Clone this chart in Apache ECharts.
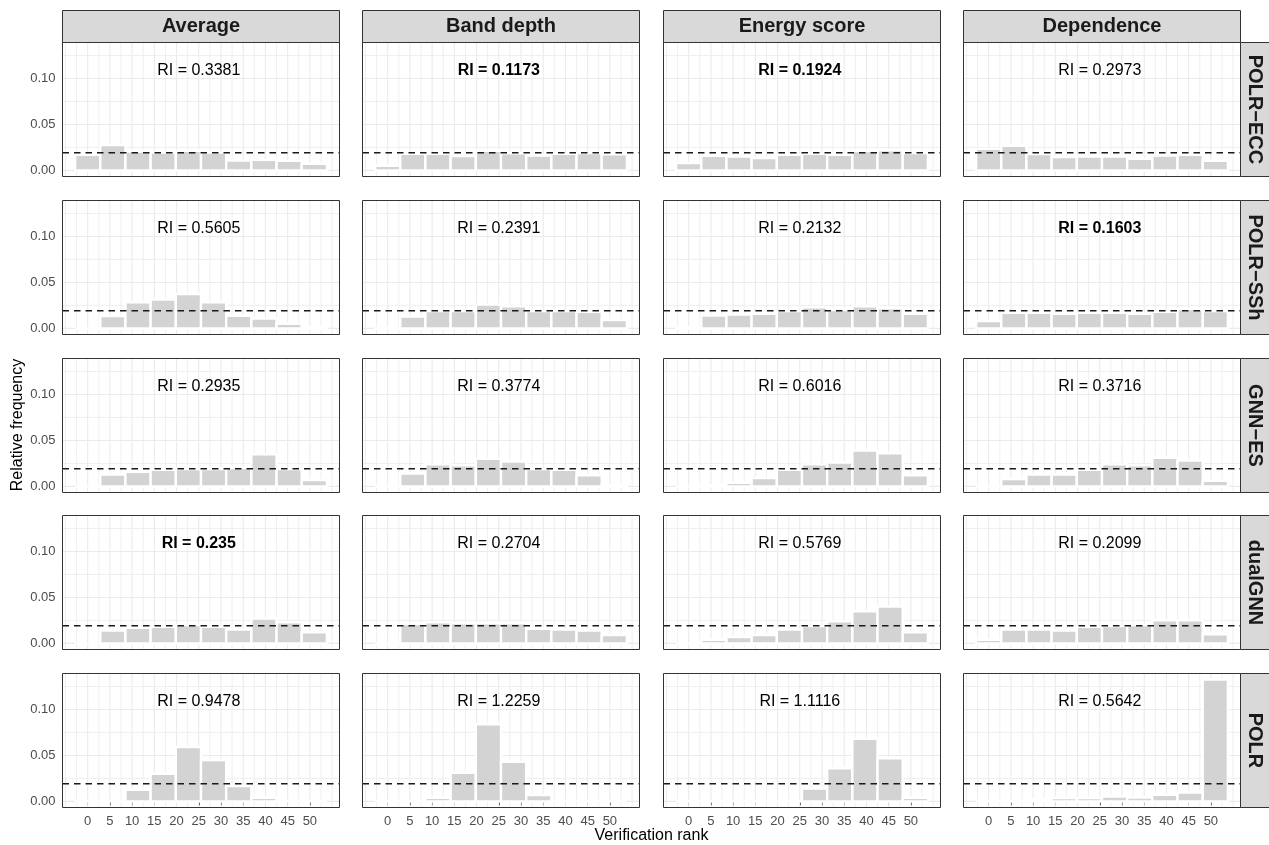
<!DOCTYPE html>
<html>
<head>
<meta charset="utf-8">
<title>Verification rank histograms</title>
<script src="https://cdn.jsdelivr.net/npm/echarts@6/dist/echarts.min.js"></script>
<style>
  html, body { margin: 0; padding: 0; background: #ffffff; }
  #chart { width: 1269px; height: 845px; }
</style>
</head>
<body>
<div id="chart"></div>
<script>
// ---- data -------------------------------------------------------------
const METHODS = ['Average', 'Band depth', 'Energy score', 'Dependence'];
const MODELS = ['POLR\u2212ECC', 'POLR\u2212SSh', 'GNN\u2212ES', 'dualGNN', 'POLR'];

// centres of the ten rank bins (ranks 0..51)
const RANK_BINS = [0, 5.667, 11.333, 17, 22.667, 28.333, 34, 39.667, 45.333, 51];
const BIN_WIDTH = 51 / 9;

const X_TICKS = [0, 5, 10, 15, 20, 25, 30, 35, 40, 45, 50];
const Y_TICKS = [0, 0.05, 0.10];
const UNIFORM_LEVEL = 1 / 52;   // flat-histogram reference

// relative frequency per rank bin
const polrEccAverage    = [0.0169, 0.0277, 0.0205, 0.0194, 0.0212, 0.0194, 0.0107, 0.0115, 0.0104, 0.0072];
const polrEccBandDepth  = [0.0050, 0.0180, 0.0180, 0.0155, 0.0212, 0.0187, 0.0162, 0.0180, 0.0190, 0.0176];
const polrEccEnergy     = [0.0080, 0.0160, 0.0150, 0.0135, 0.0170, 0.0180, 0.0170, 0.0210, 0.0220, 0.0190];
const polrEccDependence = [0.0234, 0.0267, 0.0177, 0.0144, 0.0151, 0.0151, 0.0126, 0.0162, 0.0169, 0.0104];

const polrSshAverage    = [0.0000, 0.0135, 0.0285, 0.0313, 0.0375, 0.0285, 0.0137, 0.0107, 0.0050, 0.0015];
const polrSshBandDepth  = [0.0005, 0.0130, 0.0190, 0.0190, 0.0260, 0.0240, 0.0190, 0.0190, 0.0180, 0.0090];
const polrSshEnergy     = [0.0010, 0.0140, 0.0150, 0.0160, 0.0190, 0.0230, 0.0200, 0.0240, 0.0220, 0.0160];
const polrSshDependence = [0.0080, 0.0170, 0.0170, 0.0160, 0.0170, 0.0170, 0.0160, 0.0180, 0.0210, 0.0190];

const gnnEsAverage      = [0.0000, 0.0130, 0.0160, 0.0180, 0.0190, 0.0190, 0.0200, 0.0350, 0.0190, 0.0070];
const gnnEsBandDepth    = [0.0000, 0.0140, 0.0240, 0.0230, 0.0300, 0.0270, 0.0190, 0.0180, 0.0120, 0.0010];
const gnnEsEnergy       = [0.0000, 0.0010, 0.0040, 0.0090, 0.0180, 0.0240, 0.0260, 0.0390, 0.0360, 0.0120];
const gnnEsDependence   = [0.0000, 0.0080, 0.0130, 0.0130, 0.0180, 0.0240, 0.0230, 0.0310, 0.0280, 0.0060];

const dualGnnAverage    = [0.0000, 0.0140, 0.0170, 0.0180, 0.0200, 0.0180, 0.0150, 0.0270, 0.0230, 0.0120];
const dualGnnBandDepth  = [0.0000, 0.0210, 0.0230, 0.0220, 0.0220, 0.0220, 0.0160, 0.0150, 0.0140, 0.0090];
const dualGnnEnergy     = [0.0000, 0.0040, 0.0070, 0.0090, 0.0150, 0.0190, 0.0240, 0.0350, 0.0400, 0.0120];
const dualGnnDependence = [0.0040, 0.0150, 0.0150, 0.0140, 0.0180, 0.0190, 0.0200, 0.0250, 0.0250, 0.0100];

const polrAverage       = [0.0000, 0.0000, 0.0126, 0.0299, 0.0592, 0.0451, 0.0166, 0.0039, 0.0000, 0.0000];
const polrBandDepth     = [0.0000, 0.0000, 0.0040, 0.0310, 0.0840, 0.0430, 0.0070, 0.0000, 0.0000, 0.0000];
const polrEnergy        = [0.0000, 0.0000, 0.0000, 0.0000, 0.0000, 0.0140, 0.0360, 0.0680, 0.0470, 0.0040];
const polrDependence    = [0.0000, 0.0005, 0.0025, 0.0036, 0.0036, 0.0053, 0.0042, 0.0072, 0.0097, 0.1325];

// reliability index per panel
const riPolrEcc  = [0.3381, 0.1173, 0.1924, 0.2973];
const riPolrSsh  = [0.5605, 0.2391, 0.2132, 0.1603];
const riGnnEs    = [0.2935, 0.3774, 0.6016, 0.3716];
const riDualGnn  = [0.235, 0.2704, 0.5769, 0.2099];
const riPolr     = [0.9478, 1.2259, 1.1116, 0.5642];

const FREQUENCIES = [
  [polrEccAverage, polrEccBandDepth, polrEccEnergy, polrEccDependence],
  [polrSshAverage, polrSshBandDepth, polrSshEnergy, polrSshDependence],
  [gnnEsAverage, gnnEsBandDepth, gnnEsEnergy, gnnEsDependence],
  [dualGnnAverage, dualGnnBandDepth, dualGnnEnergy, dualGnnDependence],
  [polrAverage, polrBandDepth, polrEnergy, polrDependence]
];
const RI_VALUES = [riPolrEcc, riPolrSsh, riGnnEs, riDualGnn, riPolr];

// ---- scales -----------------------------------------------------------
const xLo = RANK_BINS[0] - BIN_WIDTH / 2;
const xHi = RANK_BINS[RANK_BINS.length - 1] + BIN_WIDTH / 2;
const X_MIN = xLo - 0.05 * (xHi - xLo);
const X_MAX = xHi + 0.05 * (xHi - xLo);
const yTop = Math.max(...FREQUENCIES.flat(2));
const Y_MIN = -0.05 * yTop;
const Y_MAX = yTop * 1.05;

const X_MINOR = [-5, -2.5, 2.5, 7.5, 12.5, 17.5, 22.5, 27.5, 32.5, 37.5, 42.5, 47.5, 52.5, 55];
const Y_MINOR = [0.025, 0.075, 0.125];
const LABEL_POS = [25, 0.109];

// ---- layout -----------------------------------------------------------
const FONT = '"Liberation Sans", Arial, Helvetica, sans-serif';
const COL_LEFT = [62.5, 362.5, 663.5, 963.5];
const ROW_TOP = [42.5, 200.5, 358.5, 515.5, 673.5];
const PANEL_W = 277;
const PANEL_H = 134;
const STRIP = 29;

// best (lowest) RI per method column is set in bold
const bestRow = METHODS.map((_, c) => {
  let best = 0;
  RI_VALUES.forEach((row, r) => { if (row[c] < RI_VALUES[best][c]) best = r; });
  return best;
});

const grids = [], xAxes = [], yAxes = [], series = [], graphics = [];

function gridLineItem(params, api) {
  const dir = api.value(0), pos = api.value(1), major = api.value(2);
  let a, b;
  if (dir === 0) { a = api.coord([pos, Y_MIN]); b = api.coord([pos, Y_MAX]); }
  else { a = api.coord([X_MIN, pos]); b = api.coord([X_MAX, pos]); }
  return {
    type: 'line',
    shape: { x1: a[0], y1: a[1], x2: b[0], y2: b[1] },
    style: { stroke: major ? '#EBEBEB' : '#EDEDED', lineWidth: major ? 1.1 : 0.9 }
  };
}

function barItem(params, api) {
  const c = api.value(0), v = api.value(1);
  const p0 = api.coord([c - BIN_WIDTH / 2, v]);
  const p1 = api.coord([c + BIN_WIDTH / 2, 0]);
  return {
    type: 'rect',
    shape: { x: p0[0], y: p0[1], width: p1[0] - p0[0], height: p1[1] - p0[1] },
    style: { fill: '#D3D3D3', stroke: '#FFFFFF', lineWidth: 2.4 }
  };
}

function refLineItem(params, api) {
  const y = api.value(1);
  const a = api.coord([X_MIN, y]);
  const b = api.coord([X_MAX, y]);
  return {
    type: 'line',
    shape: { x1: a[0], y1: a[1], x2: b[0], y2: b[1] },
    style: { stroke: '#1A1A1A', lineWidth: 1.3, lineDash: [6.5, 5] }
  };
}

for (let r = 0; r < MODELS.length; r++) {
  for (let c = 0; c < METHODS.length; c++) {
    const i = grids.length;
    grids.push({
      left: COL_LEFT[c], top: ROW_TOP[r], width: PANEL_W, height: PANEL_H,
      show: true, backgroundColor: '#FFFFFF', borderWidth: 0,
      containLabel: false, outerBoundsMode: 'none'
    });
    xAxes.push({
      gridIndex: i, type: 'value', min: X_MIN, max: X_MAX,
      axisLine: { show: false }, splitLine: { show: false },
      axisTick: { show: r === MODELS.length - 1, customValues: X_TICKS, length: 4,
                  lineStyle: { color: '#333333', width: 1 } },
      axisLabel: { show: r === MODELS.length - 1, customValues: X_TICKS, margin: 7,
                   color: '#4D4D4D', fontSize: 13, fontFamily: FONT }
    });
    yAxes.push({
      gridIndex: i, type: 'value', min: Y_MIN, max: Y_MAX,
      axisLine: { show: false }, splitLine: { show: false },
      axisTick: { show: c === 0, customValues: Y_TICKS, length: 4,
                  lineStyle: { color: '#333333', width: 1 } },
      axisLabel: { show: c === 0, customValues: Y_TICKS, margin: 7,
                   formatter: v => Number(v).toFixed(2),
                   color: '#4D4D4D', fontSize: 13, fontFamily: FONT }
    });

    const lines = [];
    X_TICKS.forEach(v => lines.push([0, v, 1]));
    X_MINOR.forEach(v => lines.push([0, v, 0]));
    Y_TICKS.forEach(v => lines.push([1, v, 1]));
    Y_MINOR.forEach(v => lines.push([1, v, 0]));
    series.push({
      type: 'custom', xAxisIndex: i, yAxisIndex: i, z: 1, silent: true,
      renderItem: gridLineItem, data: lines, animation: false
    });
    series.push({
      type: 'custom', name: MODELS[r] + ' / ' + METHODS[c], xAxisIndex: i, yAxisIndex: i,
      z: 2, silent: true, renderItem: barItem, animation: false,
      data: RANK_BINS.map((b, k) => [b, FREQUENCIES[r][c][k]])
    });
    series.push({
      type: 'custom', xAxisIndex: i, yAxisIndex: i, z: 3, silent: true,
      renderItem: refLineItem, data: [[0, UNIFORM_LEVEL]], animation: false
    });
    const bold = bestRow[c] === r;
    series.push({
      type: 'custom', xAxisIndex: i, yAxisIndex: i, z: 4, silent: true, animation: false,
      data: [[LABEL_POS[0], LABEL_POS[1], RI_VALUES[r][c]]],
      renderItem: (params, api) => {
        const p = api.coord([api.value(0), api.value(1)]);
        return {
          type: 'text', x: p[0], y: p[1],
          style: { text: 'RI = ' + api.value(2), fill: '#000000',
                   font: (bold ? 'bold ' : '') + '16px ' + FONT,
                   align: 'center', verticalAlign: 'middle' }
        };
      }
    });

    // panel frame
    graphics.push({
      type: 'rect', z: 100, silent: true,
      shape: { x: COL_LEFT[c], y: ROW_TOP[r], width: PANEL_W, height: PANEL_H },
      style: { fill: 'none', stroke: '#333333', lineWidth: 1 }
    });
  }
}

// column strips
METHODS.forEach((m, c) => {
  graphics.push({
    type: 'rect', z: 101, silent: true,
    shape: { x: COL_LEFT[c], y: ROW_TOP[0] - 32, width: PANEL_W, height: 32 },
    style: { fill: '#D9D9D9', stroke: '#333333', lineWidth: 1 }
  });
  graphics.push({
    type: 'text', z: 102, silent: true,
    x: COL_LEFT[c] + PANEL_W / 2, y: ROW_TOP[0] - 16,
    style: { text: m, font: 'bold 20px ' + FONT, fill: '#1A1A1A',
             align: 'center', verticalAlign: 'middle' }
  });
});

// row strips
MODELS.forEach((m, r) => {
  const x0 = COL_LEFT[3] + PANEL_W;
  graphics.push({
    type: 'rect', z: 101, silent: true,
    shape: { x: x0, y: ROW_TOP[r], width: STRIP, height: PANEL_H },
    style: { fill: '#D9D9D9', stroke: '#333333', lineWidth: 1 }
  });
  graphics.push({
    type: 'text', z: 102, silent: true,
    x: x0 + STRIP / 2, y: ROW_TOP[r] + PANEL_H / 2, rotation: -Math.PI / 2,
    style: { text: m, font: 'bold 20px ' + FONT, fill: '#1A1A1A',
             align: 'center', verticalAlign: 'middle' }
  });
});

// axis titles
graphics.push({
  type: 'text', z: 102, silent: true,
  x: (COL_LEFT[0] + COL_LEFT[3] + PANEL_W) / 2, y: 836,
  style: { text: 'Verification rank', font: '16px ' + FONT, fill: '#000000',
           align: 'center', verticalAlign: 'middle' }
});
graphics.push({
  type: 'text', z: 102, silent: true,
  x: 18, y: (ROW_TOP[0] + ROW_TOP[4] + PANEL_H) / 2, rotation: Math.PI / 2,
  style: { text: 'Relative frequency', font: '16px ' + FONT, fill: '#000000',
           align: 'center', verticalAlign: 'middle' }
});

const chart = echarts.init(document.getElementById('chart'), null, { renderer: 'canvas' });
chart.setOption({
  animation: false,
  backgroundColor: '#FFFFFF',
  grid: grids,
  xAxis: xAxes,
  yAxis: yAxes,
  series: series,
  graphic: { elements: graphics }
});
</script>
</body>
</html>
